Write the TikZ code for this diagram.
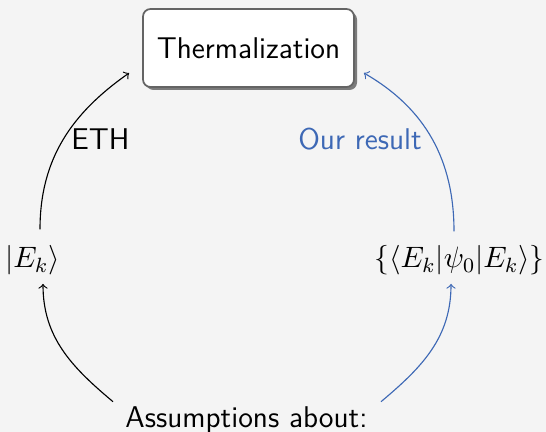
\RequirePackage{fix-cm}
\documentclass[tikz,border=0pt]{standalone}
\usepackage{fontspec}
\usetikzlibrary{shadows}
\definecolor{bg}{RGB}{244,244,244}
\definecolor{ourblue}{RGB}{61,104,181}
\definecolor{boxedge}{RGB}{100,100,100}
\tikzset{
  lbl/.style={inner sep=0pt, font=\fontsize{12}{14}\selectfont\sffamily},
  mathlbl/.style={inner sep=0pt, font=\fontsize{11.8}{14}\selectfont, anchor=base},
  thbox/.style={draw=boxedge, line width=0.7pt, fill=white, rounded corners=3pt,
    minimum width=84.4pt, minimum height=31.2pt, inner sep=0pt,
    font=\fontsize{12}{14}\selectfont\sffamily,
    drop shadow={shadow xshift=1.2pt, shadow yshift=-1.2pt, fill=black!60, opacity=0.85}},
  conn/.style={->, line width=0.45pt},
}
\begin{document}
\begin{tikzpicture}[x=0.4pt, y=-0.4pt]
\fill[bg] (0,0) rectangle (546,432);
\useasboundingbox (0,0) rectangle (546,432);
\node[thbox] (th) at (248.5,48) {Thermalization};
\node[mathlbl] (ek) at (32.5,268) {$|E_k\rangle$};
\node[mathlbl] (rn) at (459.5,268) {$\{\langle E_k|\psi_0|E_k\rangle\}$};
\node[lbl, anchor=base] (as) at (246.5,427) {Assumptions about:};
\node[lbl] (eth) at (100.5,139.5) {ETH};
\node[lbl, text=ourblue] (our) at (360,139) {Our result};
\draw[conn] ([shift={(3pt,6.4pt)}]ek.north) to[out=90,in=215] ([shift={(-5.2pt,-10pt)}]th.west);
\draw[conn, ourblue] ([shift={(-2.2pt,5.6pt)}]rn.north) to[out=90,in=-30] ([shift={(3.6pt,-10pt)}]th.east);
\draw[conn] ([shift={(-4.8pt,1.6pt)}]as.north west) to[out=140,in=-90] ([shift={(4.2pt,-3.2pt)}]ek.south);
\draw[conn, ourblue] ([shift={(5.2pt,1.6pt)}]as.north east) to[out=40,in=-90] ([shift={(-3.4pt,-3.2pt)}]rn.south);
\end{tikzpicture}
\end{document}
